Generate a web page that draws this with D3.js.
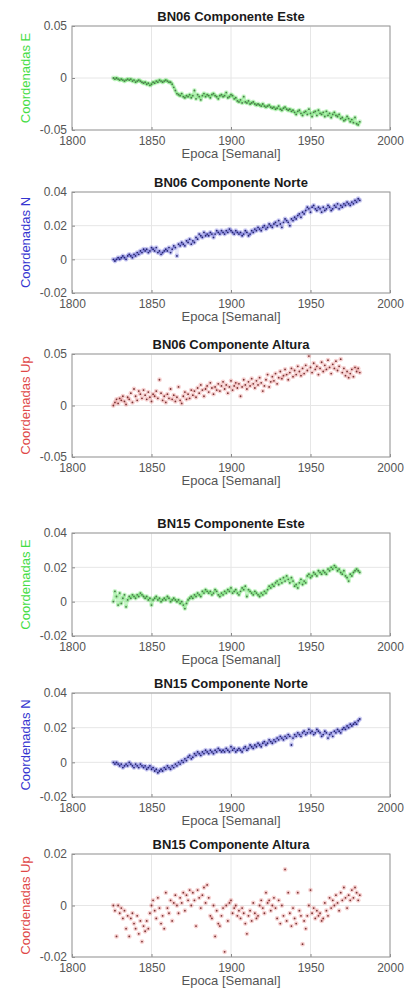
<!DOCTYPE html>
<html>
<head>
<meta charset="utf-8">
<script src="https://cdnjs.cloudflare.com/ajax/libs/d3/7.8.5/d3.min.js"></script>
<style>
  body { margin: 0; background: #fff; }
  text { font-family: "Liberation Sans", Arial, sans-serif; }
</style>
</head>
<body>
<div id="chart"></div>
<script>
// weekly epochs (GPS weeks)
var firstWeek = 1826, lastWeek = 1981;
var weeks = d3.range(firstWeek, lastWeek + 1);
var xTicks = [1800, 1850, 1900, 1950, 2000];

// coordinates in mm
var bn06E = [0,-1,0,-1,-2,-1,-2,-3,-2,-1,
  -2,-1,-3,-2,-4,-3,-2,-3,-4,-5,
  -4,-6,-5,-7,-6,-4,-5,-3,-4,-2,
  -3,-4,-3,-2,-3,-4,-4,-6,-9,-12,
  -15,-16,-17,-15,-18,-19,-17,-18,-16,-19,
  -17,-12,-20,-16,-18,-21,-17,-15,-18,-16,
  -17,-19,-16,-15,-17,-18,-20,-17,-16,-18,
  -17,-14,-19,-18,-16,-17,-20,-19,-22,-23,
  -21,-24,-18,-23,-24,-22,-25,-24,-23,-25,
  -26,-25,-26,-27,-25,-27,-28,-27,-26,-28,
  -29,-28,-30,-29,-27,-30,-31,-29,-28,-30,
  -31,-30,-32,-31,-33,-35,-32,-31,-34,-36,
  -33,-32,-35,-30,-34,-37,-33,-32,-36,-31,
  -34,-35,-33,-37,-32,-36,-34,-38,-35,-33,
  -36,-37,-35,-39,-38,-41,-40,-37,-39,-42,
  -40,-43,-38,-44,-45,-42];
var bn06N = [0,-1,0,1,0,1,2,1,0,2,
  3,2,1,3,2,4,3,5,4,6,
  5,6,4,5,7,6,5,7,4,5,
  3,4,5,6,5,7,4,6,8,7,
  2,9,8,10,9,8,11,10,12,9,
  11,10,13,12,15,14,13,16,14,15,
  14,16,15,13,15,17,16,15,17,16,
  15,17,16,18,17,16,15,17,16,15,
  16,14,15,17,16,14,15,17,16,18,
  17,19,18,17,19,20,18,19,21,20,
  19,21,22,20,23,21,19,22,24,23,
  22,20,24,23,25,24,26,27,25,28,
  27,29,31,30,28,31,32,30,29,31,
  30,28,31,29,30,32,31,29,30,32,
  31,33,30,32,31,33,32,34,33,32,
  34,33,35,34,36,35];
var bn06U = [0,3,6,2,7,5,9,4,1,8,
  6,12,3,16,9,5,14,11,7,15,
  10,6,13,8,4,11,9,14,7,25,
  12,5,9,3,11,7,16,6,10,4,
  8,18,5,2,9,13,6,11,7,15,
  10,14,8,17,12,20,15,9,16,19,
  13,22,17,11,18,15,21,14,19,23,
  16,20,12,18,24,15,19,22,17,21,
  9,18,25,20,16,23,19,26,21,17,
  24,20,27,22,14,19,25,30,18,23,
  28,24,31,21,27,33,26,29,35,30,
  25,32,36,28,34,30,38,33,29,36,
  31,39,34,48,37,32,41,35,38,30,
  36,42,33,39,35,44,37,31,40,36,
  43,34,38,45,32,36,29,33,27,31,
  35,28,37,33,36,32];
var bn15E = [0,6,3,-2,5,-1,2,4,-3,1,
  3,2,4,3,2,4,3,5,4,3,
  2,3,1,2,-2,1,2,3,1,2,
  0,1,2,1,3,2,0,1,2,1,
  0,1,-1,0,-2,-4,-1,1,2,3,
  2,4,3,5,4,3,6,5,7,6,
  5,6,4,5,7,6,4,3,5,4,
  6,5,7,6,8,5,6,7,5,4,
  6,8,7,9,3,7,6,5,4,6,
  5,4,3,5,4,6,5,7,9,8,
  10,9,11,12,10,13,11,14,12,15,
  13,11,14,12,9,10,8,11,13,10,
  12,11,15,16,14,15,17,16,15,18,
  17,16,18,17,16,19,18,20,19,21,
  20,18,19,17,16,18,15,14,12,16,
  15,17,18,19,18,17];
var bn15N = [0,-1,0,-1,-2,-1,-3,-2,-1,-2,
  0,-1,-2,-3,-1,-2,-3,-1,-2,-3,
  -2,-4,-3,-2,-4,-3,-5,-4,-6,-5,
  -4,-5,-3,-4,-2,-3,-4,-2,-3,-1,
  -2,0,-1,1,0,2,1,3,4,2,
  3,5,4,6,5,4,6,5,7,6,
  5,7,6,5,7,6,8,7,6,7,
  6,8,7,6,9,7,8,6,7,8,
  7,6,8,9,7,8,10,9,8,10,
  9,11,10,9,11,12,10,11,13,12,
  11,13,12,14,13,15,14,13,15,14,
  16,15,10,14,16,15,17,16,15,17,
  18,16,17,19,17,18,16,17,19,18,
  17,15,16,18,17,14,16,17,15,18,
  17,19,18,17,19,20,19,21,20,22,
  21,22,23,22,24,25];
var bn15U = [0,-2,-12,0,-3,-1,-5,-2,-9,-4,
  -12,-5,-3,-7,-9,-4,-11,-6,-14,-8,
  -10,-6,-9,-3,0,2,-2,-5,3,-1,
  -7,-4,-9,5,-1,-3,2,-6,1,4,
  0,-3,3,1,5,-2,4,2,6,0,
  5,2,-8,6,3,-1,4,7,1,8,
  3,-4,-5,0,-12,-2,-7,-8,-4,-1,
  -18,0,-6,1,2,-3,-1,0,-4,-2,
  -5,-1,-3,-7,-11,-4,-2,-6,1,-3,
  -5,-4,0,2,-1,-3,5,1,2,-2,
  0,3,-1,-5,2,-7,0,-4,14,-6,
  5,-3,-8,-1,-5,-7,5,-2,-4,-15,
  -6,-9,-4,0,6,-3,-1,-5,-2,-4,
  -3,-6,-5,1,-2,-4,3,-1,2,0,
  4,1,-2,5,2,7,3,-1,4,2,
  6,3,7,5,2,4];

var titles = ["BN06 Componente Este", "BN06 Componente Norte", "BN06 Componente Altura",
              "BN15 Componente Este", "BN15 Componente Norte", "BN15 Componente Altura"];
var yLabels = ["Coordenadas E", "Coordenadas N", "Coordenadas Up",
               "Coordenadas E", "Coordenadas N", "Coordenadas Up"];
var yTicksWide = [-50, 0, 50], yTickTextWide = ["-0.05", "0", "0.05"];
var yTicksMid = [-20, 0, 20, 40], yTickTextMid = ["-0.02", "0", "0.02", "0.04"];
var yTicksNarrow = [-20, 0, 20], yTickTextNarrow = ["-0.02", "0", "0.02"];

var green = "#44dd44", blue = "#3535d0", red = "#e04848";

// panels built from the arrays above
var panels = [
  { top: 26,  h: 104, values: bn06E, dom: [-50, 50], ticks: yTicksWide,   labels: yTickTextWide,   color: green, dark: "#4c7a4c", band: 0.3 },
  { top: 192, h: 101, values: bn06N, dom: [-20, 40], ticks: yTicksMid,    labels: yTickTextMid,    color: blue,  dark: "#25256e", band: 0.1 },
  { top: 354, h: 103, values: bn06U, dom: [-50, 50], ticks: yTicksWide,   labels: yTickTextWide,   color: red,   dark: "#7a3434", band: 0 },
  { top: 533, h: 103, values: bn15E, dom: [-20, 40], ticks: yTicksMid,    labels: yTickTextMid,    color: green, dark: "#4c7a4c", band: 0.3 },
  { top: 693, h: 104, values: bn15N, dom: [-20, 40], ticks: yTicksMid,    labels: yTickTextMid,    color: blue,  dark: "#25256e", band: 0.1 },
  { top: 854, h: 103, values: bn15U, dom: [-20, 20], ticks: yTicksNarrow, labels: yTickTextNarrow, color: red,   dark: "#7a3434", band: 0 }
];

var left = 72, w = 318;

var svg = d3.select("#chart")
  .append("svg")
    .attr("width", 405)
    .attr("height", 997);

panels.forEach(function(p, i) {
  var g = svg.append("g").attr("transform", "translate(" + left + "," + p.top + ")");

  var x = d3.scaleLinear().domain([1800, 2000]).range([0, w]);
  var y = d3.scaleLinear().domain(p.dom).range([p.h, 0]);

  // grid
  g.selectAll(".gx").data(xTicks).enter().append("line")
    .attr("x1", function(d) { return x(d); }).attr("x2", function(d) { return x(d); })
    .attr("y1", 0).attr("y2", p.h)
    .attr("stroke", "#e6e6e6");
  g.selectAll(".gy").data(p.ticks).enter().append("line")
    .attr("x1", 0).attr("x2", w)
    .attr("y1", function(d) { return y(d); }).attr("y2", function(d) { return y(d); })
    .attr("stroke", "#e6e6e6");

  var pts = weeks.map(function(wk, j) { return [wk, p.values[j]]; });

  // soft band along the series (green panels look like a thick line)
  if (p.band > 0) {
    g.append("path")
      .datum(pts)
      .attr("fill", "none")
      .attr("stroke", p.color)
      .attr("stroke-opacity", p.band)
      .attr("stroke-width", 3)
      .attr("stroke-linejoin", "round")
      .attr("d", d3.line().x(function(d) { return x(d[0]); }).y(function(d) { return y(d[1]); }));
  }

  // markers
  g.selectAll(".halo").data(pts).enter().append("circle")
    .attr("cx", function(d) { return x(d[0]); })
    .attr("cy", function(d) { return y(d[1]); })
    .attr("r", 2.4)
    .attr("fill", p.color)
    .attr("fill-opacity", 0.25);
  g.selectAll(".dot").data(pts).enter().append("circle")
    .attr("cx", function(d) { return x(d[0]); })
    .attr("cy", function(d) { return y(d[1]); })
    .attr("r", 0.9)
    .attr("fill", p.dark);

  // axes
  var xa = g.append("g")
    .attr("transform", "translate(0," + p.h + ")")
    .call(d3.axisBottom(x).tickValues(xTicks).tickFormat(d3.format("d")).tickSize(-3).tickPadding(6));
  var ya = g.append("g")
    .call(d3.axisLeft(y).tickValues(p.ticks).tickFormat(function(d, k) { return p.labels[k]; }).tickSize(-3).tickPadding(5));
  [xa, ya].forEach(function(a) {
    a.select(".domain").remove();
    a.selectAll("line").attr("stroke", "#888");
    a.selectAll("text").attr("fill", "#555").style("font-size", "12px")
      .style("font-family", "'Liberation Sans', Arial, sans-serif");
  });

  // box
  g.append("rect")
    .attr("width", w).attr("height", p.h)
    .attr("fill", "none")
    .attr("stroke", "#999");

  g.append("text")
    .attr("x", w / 2).attr("y", -5)
    .attr("text-anchor", "middle")
    .style("font-size", "13px").style("font-weight", "bold")
    .attr("fill", "#1a1a1a")
    .text(titles[i]);

  g.append("text")
    .attr("x", w / 2).attr("y", p.h + 28)
    .attr("text-anchor", "middle")
    .style("font-size", "13px")
    .attr("fill", "#555")
    .text("Epoca [Semanal]");

  g.append("text")
    .attr("transform", "translate(-47," + (p.h / 2) + ")rotate(-90)")
    .attr("text-anchor", "middle")
    .attr("dy", "0.35em")
    .style("font-size", "13px")
    .attr("fill", p.color)
    .text(yLabels[i]);
});
</script>
</body>
</html>
